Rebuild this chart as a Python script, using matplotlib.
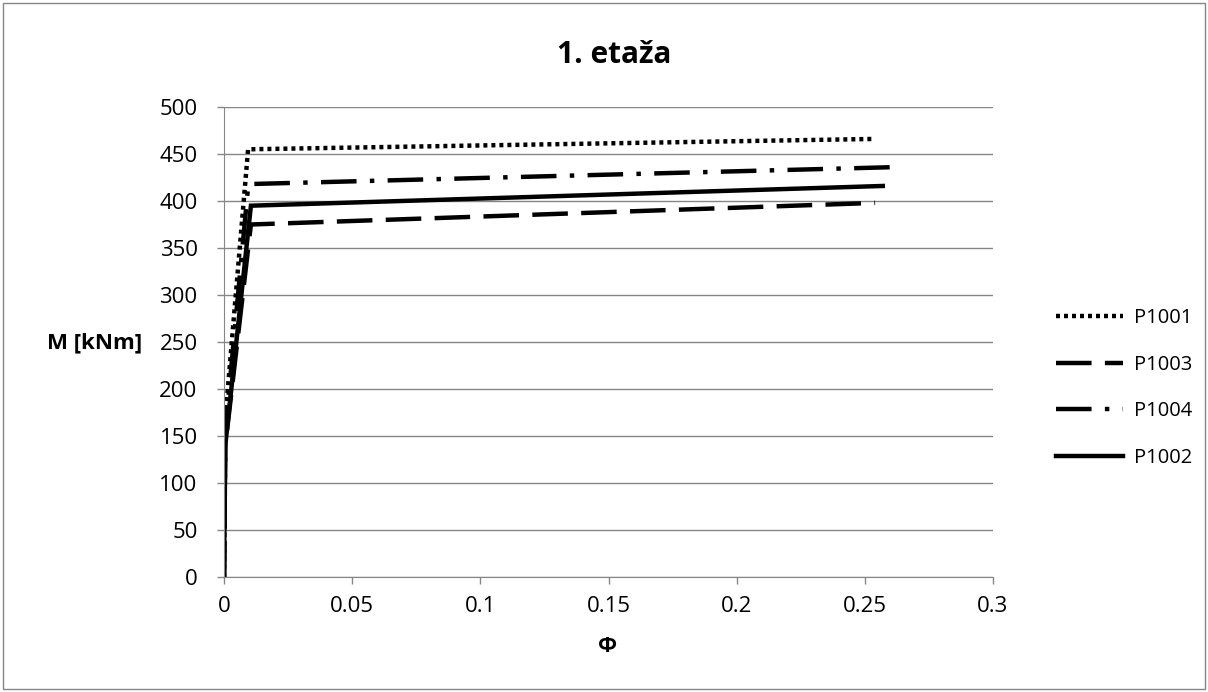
import matplotlib
matplotlib.use("Agg")
import matplotlib.pyplot as plt
from matplotlib.patches import Rectangle

plt.rcParams['font.family'] = ['Open Sans', 'DejaVu Sans']

names = ["P1001", "P1003", "P1004", "P1002"]
phi_p1001 = [0, 0.0004, 0.0094, 0.253]
m_p1001 = [0, 165, 455, 466]
phi_p1003 = [0, 0.0005, 0.0105, 0.254]
m_p1003 = [0, 140, 375, 398]
phi_p1004 = [0, 0.0005, 0.0095, 0.261]
m_p1004 = [0, 155, 418, 436]
phi_p1002 = [0, 0.0005, 0.0105, 0.257]
m_p1002 = [0, 140, 395, 416]

xticks = [0, 0.05, 0.1, 0.15, 0.2, 0.25, 0.3]
xticklabels = ["0", "0.05", "0.1", "0.15", "0.2", "0.25", "0.3"]
yticks = list(range(0, 501, 50))

W, H = 1208, 692
fig = plt.figure(figsize=(W/100, H/100), dpi=100)
fig.patches.append(Rectangle((3/W, 3/H), 1-6/W, 1-6/H, transform=fig.transFigure,
                             fill=False, edgecolor='#868686', linewidth=1))
ax = fig.add_axes([224/W, 1-577/H, (993-224)/W, (577-107)/H])

lw = 3.2
styles = [
    dict(linestyle=(0, (0.9, 0.9)), dash_capstyle='butt'),
    dict(linestyle=(0, (8, 3)), dash_capstyle='butt'),
    dict(linestyle=(0, (8, 3, 1, 3)), dash_capstyle='butt'),
    dict(linestyle='-'),
]
data = [(phi_p1001, m_p1001), (phi_p1003, m_p1003), (phi_p1004, m_p1004), (phi_p1002, m_p1002)]
for (x, y), st, nm in zip(data, styles, names):
    ax.plot(x, y, color='black', linewidth=lw, label=nm, solid_joinstyle='miter', **st)

ax.set_xlim(0, 0.3)
ax.set_ylim(0, 500)
ax.set_xticks(xticks)
ax.set_xticklabels(xticklabels)
ax.set_yticks(yticks)
ax.grid(axis='y', color='#868686', linewidth=1)
ax.set_axisbelow(True)
for s in ['top', 'right']:
    ax.spines[s].set_visible(False)
for s in ['left', 'bottom']:
    ax.spines[s].set_color('#868686')
ax.tick_params(axis='both', colors='#868686', labelcolor='black', labelsize=16, length=5, direction='out', width=1)
ax.tick_params(axis='x', pad=9)
ax.tick_params(axis='y', pad=14)

fig.text(614/W, 1-55/H, "1. etaža", ha='center', va='center', fontsize=21.5, fontweight='bold')
fig.text(142/W, 1-343/H, "M [kNm]", ha='right', va='center', fontsize=16, fontweight='bold')
fig.text(608/W, 1-646/H, "Φ", ha='center', va='center', fontsize=16, fontweight='bold')

leg = fig.legend(loc='center left', bbox_to_anchor=(1038/W, 1-388/H), frameon=False,
                 fontsize=14.5, handlelength=3.3, labelspacing=1.33, handletextpad=0.55)

fig.savefig("out.png", dpi=100)
